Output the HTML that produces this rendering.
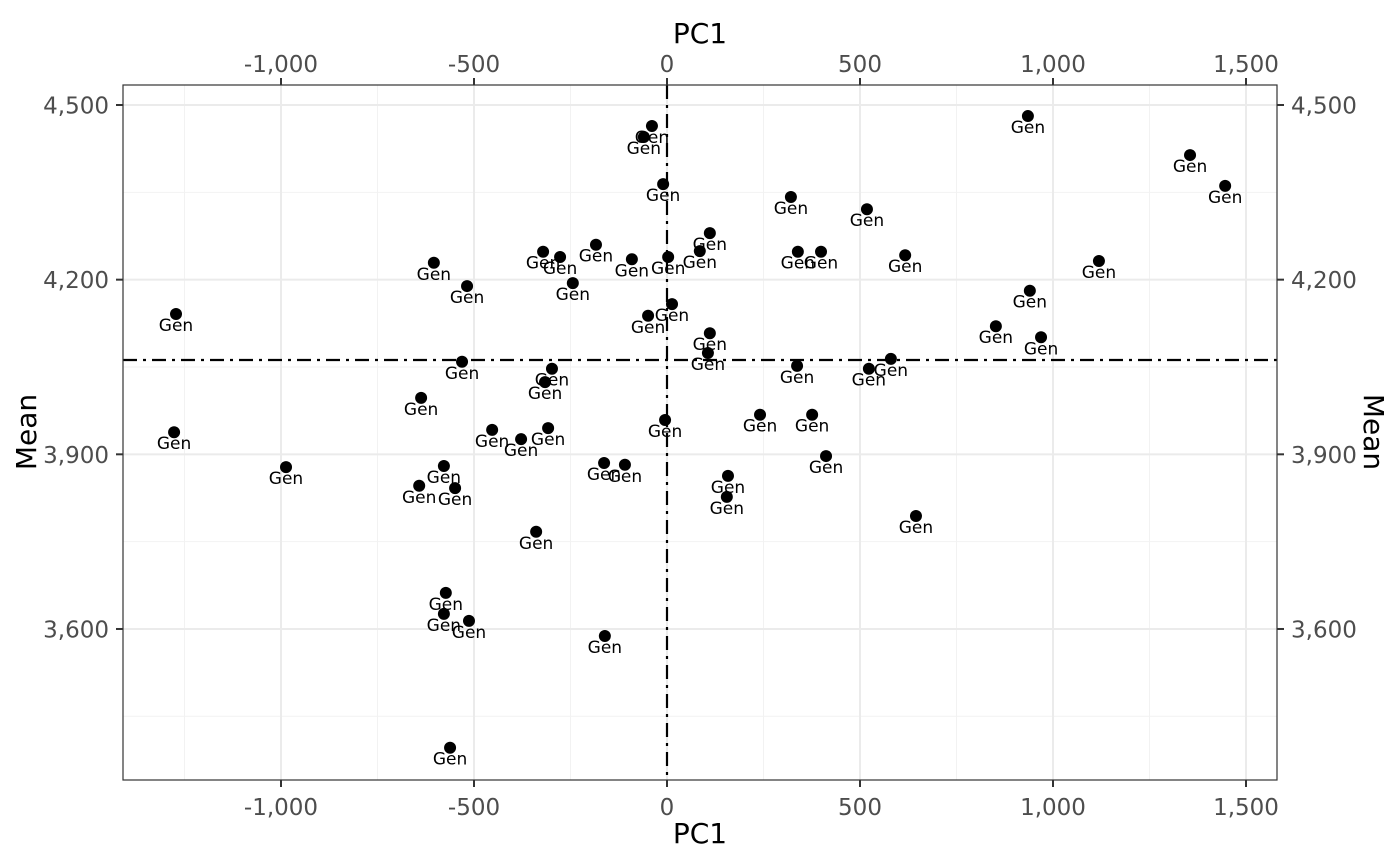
<!DOCTYPE html>
<html><head><meta charset="utf-8"><style>
html,body{margin:0;padding:0;background:#fff;}
svg{display:block;font-family:"DejaVu Sans","Liberation Sans",sans-serif;}
</style></head><body>
<svg id="chart" width="1400" height="866" viewBox="0 0 1400 866" xmlns="http://www.w3.org/2000/svg"></svg>
<script>
const pc1 = [-39,-60,-10,935,1355,1446,321,518,111,85,-184,-321,-277,-91,3,339,399,617,1119,-604,-518,-244,-1272,940,13,-49,852,969,111,106,580,-531,337,523,-298,-316,-637,241,376,-5,-453,-308,-378,-1277,412,-987,-578,-163,-109,158,-642,-549,155,645,-339,-573,-578,-513,-161,-562];
const meanVals = [4464,4445,4364,4481,4414,4361,4342,4321,4280,4249,4260,4248,4239,4235,4239,4248,4248,4242,4232,4229,4189,4194,4141,4181,4158,4138,4120,4101,4108,4074,4064,4059,4052,4047,4047,4024,3997,3968,3968,3959,3942,3945,3926,3938,3897,3878,3880,3885,3882,3863,3846,3842,3827,3794,3767,3662,3626,3614,3588,3396];
const xTicks = [-1000,-500,0,500,1000,1500];
const xTickLabels = ["-1,000","-500","0","500","1,000","1,500"];
const xMinor = [-1250,-750,-250,250,750,1250];
const yTicks = [3600,3900,4200,4500];
const yTickLabels = ["3,600","3,900","4,200","4,500"];
const yMinor = [3450,3750,4050,4350];
const refX = 0;
const refY = 4062;

const L=123,R=1277,T=85,B=780;
const sx = v => 667 + v*0.386;
const sy = v => 105 + (4500 - v)*0.5822;
const svg = document.getElementById('chart');
const NS='http://www.w3.org/2000/svg';
function mk(tag, attrs, parent){const e=document.createElementNS(NS,tag);for(const k in attrs)e.setAttribute(k,attrs[k]);(parent||svg).appendChild(e);return e;}

const grid = mk('g',{});


xMinor.forEach(v=>mk('line',{x1:sx(v),x2:sx(v),y1:T,y2:B,stroke:'#f2f2f2','stroke-width':1},grid));
yMinor.forEach(v=>mk('line',{x1:L,x2:R,y1:sy(v),y2:sy(v),stroke:'#f2f2f2','stroke-width':1},grid));
xTicks.forEach(v=>mk('line',{x1:sx(v),x2:sx(v),y1:T,y2:B,stroke:'#ebebeb','stroke-width':2},grid));
yTicks.forEach(v=>mk('line',{x1:L,x2:R,y1:sy(v),y2:sy(v),stroke:'#ebebeb','stroke-width':2},grid));

const rv = mk('line',{x1:sx(refX),x2:sx(refX),y1:T,y2:B,stroke:'#000','stroke-width':2.2,'stroke-dasharray':'14 6 3 6'});


const rh = mk('line',{x1:L,x2:R,y1:sy(refY),y2:sy(refY),stroke:'#000','stroke-width':2.2,'stroke-dasharray':'14 6 3 6'});



const pts = mk('g',{});


pc1.forEach((v,i)=>{
  const c = mk('circle',{cx:sx(v),cy:sy(meanVals[i]),r:6,fill:'#000'},pts);
  
  
});
pc1.forEach((v,i)=>{
  const t = mk('text',{x:sx(v),y:sy(meanVals[i])+17,'font-size':17,'text-anchor':'middle',fill:'#000'},pts);
  t.textContent='Gen';
  
  
});

const border = mk('rect',{x:L,y:T,width:R-L,height:B-T,fill:'none',stroke:'#333','stroke-width':1.2});



xTicks.forEach((v,i)=>{
  mk('line',{x1:sx(v),x2:sx(v),y1:T-7,y2:T,stroke:'#333','stroke-width':2});
  mk('line',{x1:sx(v),x2:sx(v),y1:B,y2:B+7,stroke:'#333','stroke-width':2});
  const t1 = mk('text',{x:sx(v),y:72,'font-size':23,'text-anchor':'middle',fill:'#4d4d4d'});
  t1.textContent=xTickLabels[i];
  
  
  const t2 = mk('text',{x:sx(v),y:815,'font-size':23,'text-anchor':'middle',fill:'#4d4d4d'});
  t2.textContent=xTickLabels[i];
  
  
});
yTicks.forEach((v,i)=>{
  mk('line',{x1:L-7,x2:L,y1:sy(v),y2:sy(v),stroke:'#333','stroke-width':2});
  mk('line',{x1:R,x2:R+7,y1:sy(v),y2:sy(v),stroke:'#333','stroke-width':2});
  const t1 = mk('text',{x:L-14,y:sy(v)+8.5,'font-size':23,'text-anchor':'end',fill:'#4d4d4d'});
  t1.textContent=yTickLabels[i];
  
  
  const t2 = mk('text',{x:R+14,y:sy(v)+8.5,'font-size':23,'text-anchor':'start',fill:'#4d4d4d'});
  t2.textContent=yTickLabels[i];
  
  
});

const tt = mk('text',{x:700,y:43,'font-size':28,'text-anchor':'middle',fill:'#000'});
tt.textContent='PC1';


const bt = mk('text',{x:700,y:843,'font-size':28,'text-anchor':'middle',fill:'#000'});
bt.textContent='PC1';


const lt = mk('text',{x:0,y:0,'font-size':28,'text-anchor':'middle',fill:'#000',transform:'translate(36,432) rotate(-90)'});
lt.textContent='Mean';


const rt = mk('text',{x:0,y:0,'font-size':28,'text-anchor':'middle',fill:'#000',transform:'translate(1364,432) rotate(90)'});
rt.textContent='Mean';


</script>
</body></html>
